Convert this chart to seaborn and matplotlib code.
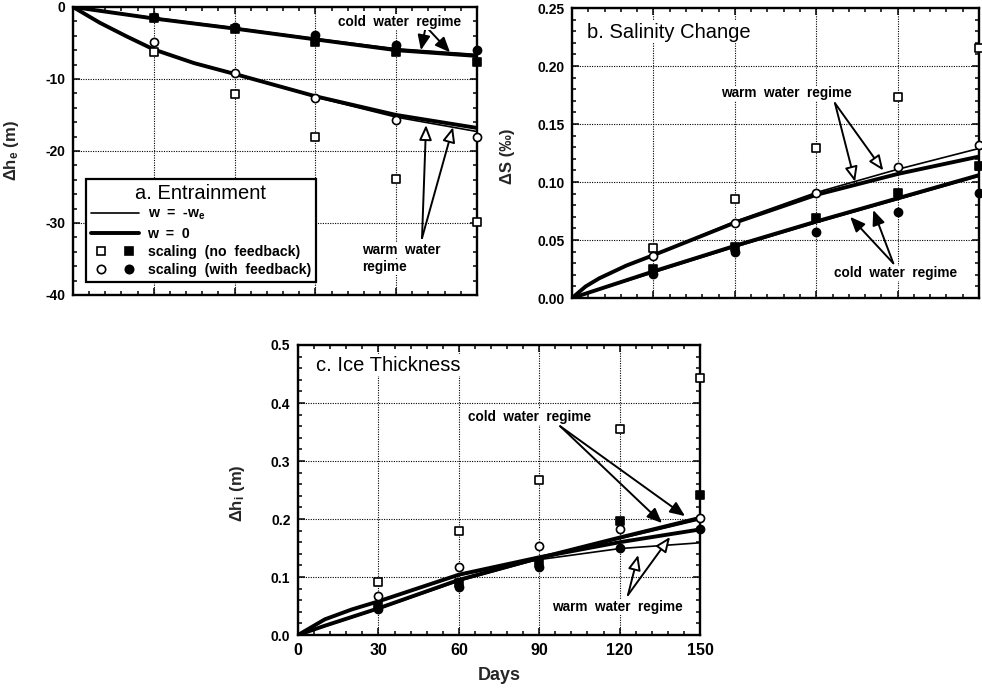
import matplotlib
matplotlib.use("Agg")
import matplotlib.pyplot as plt
import seaborn as sns
from matplotlib.lines import Line2D
from matplotlib.legend_handler import HandlerTuple
from matplotlib.ticker import MultipleLocator, FormatStrFormatter

# ---------------- data ----------------
days_pts = [30, 60, 90, 120, 150]

# a. Entrainment (m)
a_days_warm = [0, 5, 10, 20, 30, 45, 60, 90, 120, 150]
a_warm_w0 = [0, -1.1, -2.2, -4.1, -5.9, -7.8, -9.3, -12.4, -15.0, -16.8]
a_warm_we = [0, -1.1, -2.2, -4.1, -5.9, -7.8, -9.2, -12.5, -15.3, -17.3]
a_days_cold = [0, 30, 60, 90, 120, 150]
a_cold_w0 = [0, -1.6, -3.0, -4.5, -6.0, -6.8]
a_cold_we = [0, -1.5, -2.9, -4.4, -5.8, -6.6]
a_open_sq = [-6.2, -12.1, -18.1, -23.9, -29.8]
a_open_ci = [-4.9, -9.2, -12.6, -15.7, -18.1]
a_fill_sq = [-1.6, -3.1, -4.8, -6.2, -7.6]
a_fill_ci = [-1.4, -2.8, -3.9, -5.3, -6.0]

# b. Salinity change (permil)
b_days_warm = [0, 5, 10, 20, 30, 60, 90, 120, 150]
b_warm_w0 = [0, 0.010, 0.017, 0.028, 0.037, 0.065, 0.089, 0.107, 0.122]
b_warm_we = [0, 0.010, 0.017, 0.028, 0.037, 0.066, 0.091, 0.111, 0.129]
b_days_cold = [0, 30, 60, 90, 120, 150]
b_cold_w0 = [0, 0.023, 0.045, 0.066, 0.086, 0.106]
b_cold_we = [0, 0.022, 0.044, 0.065, 0.085, 0.105]
b_open_sq = [0.043, 0.085, 0.129, 0.173, 0.216]
b_open_ci = [0.036, 0.065, 0.091, 0.113, 0.132]
b_fill_sq = [0.025, 0.044, 0.069, 0.091, 0.114]
b_fill_ci = [0.021, 0.040, 0.057, 0.074, 0.091]

# c. Ice thickness (m)
c_days = [0, 10, 20, 30, 60, 90, 120, 150]
c_cold_w0 = [0, 0.016, 0.031, 0.046, 0.095, 0.133, 0.168, 0.202]
c_cold_we = [0, 0.015, 0.030, 0.045, 0.093, 0.131, 0.166, 0.199]
c_warm_w0 = [0, 0.027, 0.044, 0.058, 0.104, 0.134, 0.160, 0.182]
c_warm_we = [0, 0.027, 0.044, 0.058, 0.103, 0.130, 0.149, 0.159]
c_open_sq = [0.091, 0.179, 0.267, 0.355, 0.443]
c_open_ci = [0.067, 0.118, 0.153, 0.182, 0.201]
c_fill_sq = [0.050, 0.090, 0.125, 0.196, 0.242]
c_fill_ci = [0.045, 0.083, 0.118, 0.150, 0.182]

x_ticks = [0, 30, 60, 90, 120, 150]

# ---------------- style ----------------
sns.set_theme(style="white")
plt.rcParams.update({
    "font.family": ["Liberation Sans", "DejaVu Sans"],
    "axes.unicode_minus": False,
    "mathtext.fontset": "custom",
    "mathtext.rm": "Liberation Sans:bold",
    "mathtext.it": "Liberation Sans:bold",
    "mathtext.bf": "Liberation Sans:bold",
    "axes.edgecolor": "black",
    "text.color": "black",
    "xtick.color": "black",
    "ytick.color": "black",
})

THIN = 1.2
THICK = 2.8
ANN = 9.8

fig = plt.figure(figsize=(9.82, 6.90), dpi=100)
axa = fig.add_axes([0.0743, 0.5725, 0.4114, 0.4174])
axb = fig.add_axes([0.5825, 0.568, 0.4145, 0.4203])
axc = fig.add_axes([0.3035, 0.0797, 0.4094, 0.4203])


def style_axes(ax, lo, hi, major, minor, fmt):
    ax.set_facecolor("white")
    ax.set_xlim(0, 150)
    ax.set_ylim(lo, hi)
    ax.set_xticks(x_ticks)
    ax.xaxis.set_minor_locator(MultipleLocator(6))
    ax.yaxis.set_major_locator(MultipleLocator(major))
    ax.yaxis.set_minor_locator(MultipleLocator(minor))
    ax.yaxis.set_major_formatter(FormatStrFormatter(fmt))
    ax.grid(True, which="major", color="black", linestyle=(0, (1, 1.2)), linewidth=0.8)
    for s in ax.spines.values():
        s.set_visible(True)
        s.set_linewidth(1.7)
        s.set_color("black")
    ax.tick_params(which="both", direction="in", top=True, right=True,
                   bottom=True, left=True, width=1.1, colors="black")
    ax.tick_params(which="major", length=5)
    ax.tick_params(which="minor", length=3.2)
    ax.tick_params(axis="y", labelsize=10, pad=5.5)
    for lab in ax.get_yticklabels():
        lab.set_fontweight("bold")


def curve(ax, x, y, lw):
    sns.lineplot(x=x, y=y, ax=ax, color="black", linewidth=lw,
                 estimator=None, sort=False, zorder=3)


def pts(ax, y, marker, filled):
    sns.scatterplot(x=days_pts, y=y, ax=ax, marker=marker, s=34,
                    color="black" if filled else "white", edgecolor="black",
                    linewidth=1.2, zorder=6, clip_on=False)


def arrows(ax, tail, heads, filled):
    for h in heads:
        ax.annotate("", xy=h, xytext=tail,
                    arrowprops=dict(arrowstyle="-|>,head_length=0.9,head_width=0.38",
                                    mutation_scale=10, lw=1.4,
                                    fc="black" if filled else "white", ec="black",
                                    shrinkA=0, shrinkB=0),
                    zorder=7)


def label(ax, x, y, s):
    ax.text(x, y, s, fontsize=ANN, fontweight="bold", ha="left", va="center",
            zorder=8, bbox=dict(fc="white", ec="none", pad=0.5))


# ---------------- panel a ----------------
curve(axa, a_days_warm, a_warm_w0, THICK)
curve(axa, a_days_warm, a_warm_we, THIN)
curve(axa, a_days_cold, a_cold_w0, THICK)
curve(axa, a_days_cold, a_cold_we, THIN)
pts(axa, a_open_sq, "s", False)
pts(axa, a_fill_sq, "s", True)
pts(axa, a_open_ci, "o", False)
pts(axa, a_fill_ci, "o", True)
style_axes(axa, -40, 0, 10, 2, "%d")
axa.tick_params(labelbottom=False)
axa.set_xlabel("")
axa.set_ylabel("Δh$_e$ (m)", fontsize=12, fontweight="bold")
axa.yaxis.set_label_coords(-0.128, 0.5)

label(axa, 98.4, -2.1, "cold  water  regime")
arrows(axa, (131.0, -2.7), [(129.2, -6.0), (140.0, -6.3)], True)
label(axa, 107.3, -33.75, "warm  water")
label(axa, 107.3, -36.1, "regime")
arrows(axa, (129.6, -32.1), [(131.1, -16.4), (141.1, -16.7)], False)

h_thin = Line2D([], [], color="black", lw=THIN)
h_thick = Line2D([], [], color="black", lw=THICK)
h_osq = Line2D([], [], ls="", marker="s", mfc="white", mec="black", ms=6, mew=1.2)
h_fsq = Line2D([], [], ls="", marker="s", mfc="black", mec="black", ms=6, mew=1.2)
h_oci = Line2D([], [], ls="", marker="o", mfc="white", mec="black", ms=6, mew=1.2)
h_fci = Line2D([], [], ls="", marker="o", mfc="black", mec="black", ms=6, mew=1.2)
leg = axa.legend([h_thin, h_thick, (h_osq, h_fsq), (h_oci, h_fci)],
                 ["w  =  -w$_e$", "w  =  0", "scaling  (no  feedback)",
                  "scaling  (with  feedback)"],
                 handler_map={tuple: HandlerTuple(ndivide=None, pad=0.5)},
                 title="a. Entrainment", title_fontsize=14.5,
                 prop={"weight": "bold", "size": 10.2},
                 loc="lower left", bbox_to_anchor=(0.032, 0.045), borderaxespad=0,
                 frameon=True, fancybox=False, edgecolor="black", framealpha=1,
                 handlelength=3.4, handletextpad=0.6, labelspacing=0.3,
                 borderpad=0.35)
leg.get_frame().set_linewidth(1.6)
leg.set_zorder(10)

# ---------------- panel b ----------------
curve(axb, b_days_warm, b_warm_w0, THICK)
curve(axb, b_days_warm, b_warm_we, THIN)
curve(axb, b_days_cold, b_cold_w0, THICK)
curve(axb, b_days_cold, b_cold_we, THIN)
pts(axb, b_open_sq, "s", False)
pts(axb, b_fill_sq, "s", True)
pts(axb, b_open_ci, "o", False)
pts(axb, b_fill_ci, "o", True)
style_axes(axb, 0, 0.25, 0.05, 0.01, "%.2f")
axb.tick_params(labelbottom=False)
axb.set_xlabel("")
axb.set_ylabel("ΔS (‰)", fontsize=12, fontweight="bold")
axb.yaxis.set_label_coords(-0.14, 0.49)
axb.text(0.037, 0.917, "b. Salinity Change", transform=axb.transAxes,
         fontsize=14.5, ha="left", va="center", zorder=8,
         bbox=dict(fc="white", ec="none", pad=1))

label(axb, 54.9, 0.1765, "warm  water  regime")
arrows(axb, (96.9, 0.168), [(104.3, 0.1003), (114.7, 0.110)], False)
label(axb, 96.6, 0.0213, "cold  water  regime")
arrows(axb, (118.4, 0.030), [(102.5, 0.070), (111.0, 0.0759)], True)

# ---------------- panel c ----------------
curve(axc, c_days, c_warm_w0, THICK)
curve(axc, c_days, c_warm_we, THIN)
curve(axc, c_days, c_cold_w0, THICK)
curve(axc, c_days, c_cold_we, THIN)
pts(axc, c_open_sq, "s", False)
pts(axc, c_fill_sq, "s", True)
pts(axc, c_open_ci, "o", False)
pts(axc, c_fill_ci, "o", True)
style_axes(axc, 0, 0.5, 0.1, 0.02, "%.1f")
axc.tick_params(axis="x", labelsize=11.5, pad=6)
for lab in axc.get_xticklabels():
    lab.set_fontweight("bold")
axc.set_xlabel("Days", fontsize=13, fontweight="bold")
axc.xaxis.set_label_coords(0.5, -0.11)
axc.set_ylabel("Δh$_i$ (m)", fontsize=12, fontweight="bold")
axc.yaxis.set_label_coords(-0.127, 0.49)
axc.text(0.045, 0.931, "c. Ice Thickness", transform=axc.transAxes,
         fontsize=14.5, ha="left", va="center", zorder=8,
         bbox=dict(fc="white", ec="none", pad=1))

label(axc, 63.4, 0.376, "cold  water  regime")
arrows(axc, (97.8, 0.360), [(135.8, 0.193), (144.4, 0.205)], True)
label(axc, 94.8, 0.048, "warm  water  regime")
arrows(axc, (123.1, 0.069), [(126.9, 0.138), (138.8, 0.169)], False)

fig.savefig("out.png", dpi=100, facecolor="white")
